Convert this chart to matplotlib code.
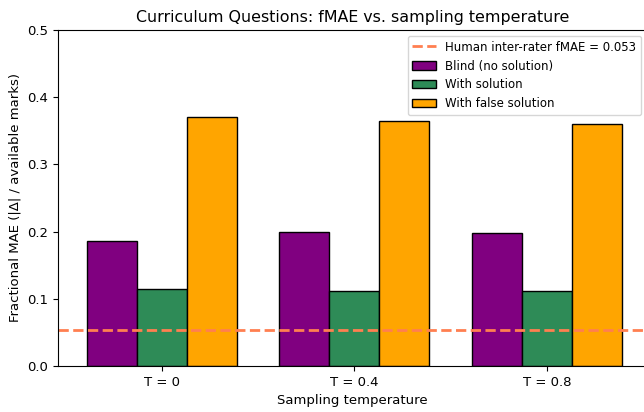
import matplotlib
matplotlib.use("Agg")
import matplotlib.pyplot as plt
import numpy as np

temps = ["T = 0", "T = 0.4", "T = 0.8"]
blind = [0.186, 0.199, 0.198]
with_sol = [0.114, 0.112, 0.112]
false_sol = [0.371, 0.364, 0.360]
human_fmae = 0.053

plt.rcParams["font.size"] = 9.5

x = np.arange(len(temps))
w = 0.26

fig = plt.figure(figsize=(6.44, 4.12), dpi=100)
ax = fig.add_axes([58/644, 46/412, 589/644, 336/412])

ax.bar(x - w, blind, w, color="purple", edgecolor="black", label="Blind (no solution)")
ax.bar(x, with_sol, w, color="seagreen", edgecolor="black", label="With solution")
ax.bar(x + w, false_sol, w, color="orange", edgecolor="black", label="With false solution")
ax.axhline(human_fmae, color="coral", linestyle="--", linewidth=2,
           label=f"Human inter-rater fMAE = {human_fmae}")

ax.set_xticks(x)
ax.set_xticklabels(temps)
ax.set_xlim(-0.54, 2.52)
ax.set_ylim(0, 0.5)
ax.set_xlabel("Sampling temperature")
ax.set_ylabel("Fractional MAE (|Δ| / available marks)")
ax.set_title("Curriculum Questions: fMAE vs. sampling temperature", fontsize=11.4)
ax.legend(loc="upper right", fontsize=8.5)

fig.savefig("out.png", dpi=100)
